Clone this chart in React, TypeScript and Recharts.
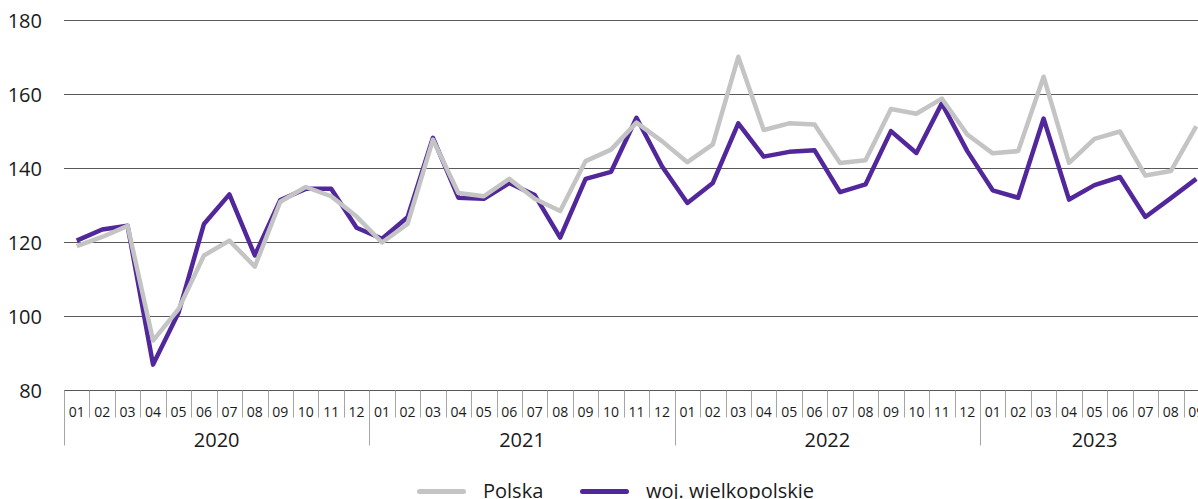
import { LineChart, Line, XAxis, YAxis, CartesianGrid } from 'recharts';

// miesiące w kolejności, 2023 kończy się na wrześniu
const yearLabels = ['2020', '2021', '2022', '2023'];
const yearLengths = [12, 12, 12, 9];
const monthLabels = [
  '01', '02', '03', '04', '05', '06', '07', '08', '09', '10', '11', '12',
  '01', '02', '03', '04', '05', '06', '07', '08', '09', '10', '11', '12',
  '01', '02', '03', '04', '05', '06', '07', '08', '09', '10', '11', '12',
  '01', '02', '03', '04', '05', '06', '07', '08', '09',
];

const polska = [
  119, 121.5, 124.5, 93.5, 102, 116.5, 120.5, 113.5, 131, 135, 132.5, 127,
  120, 125, 147.8, 133.4, 132.5, 137.2, 131.8, 128.5, 142, 145.1, 152.4, 147.4,
  141.7, 146.5, 170.2, 150.4, 152.2, 151.9, 141.5, 142.2, 156.1, 154.8, 158.9, 149.2,
  144.1, 144.7, 164.8, 141.5, 148, 150, 138.1, 139.3, 151.4,
];
const wielkopolskie = [
  120.5, 123.5, 124.5, 87, 101, 125, 133, 116.5, 131.5, 134.5, 134.5, 124,
  121, 126.8, 148.3, 132.1, 131.8, 136.1, 132.8, 121.3, 137.2, 139.1, 153.7, 140.6,
  130.7, 136.1, 152.2, 143.2, 144.5, 144.9, 133.6, 135.7, 150.1, 144.2, 157.6, 144.7,
  134.1, 132.1, 153.5, 131.6, 135.5, 137.7, 126.9, 132, 137.2,
];
const yTicks = [80, 100, 120, 140, 160, 180];

const yearOfIndex: number[] = [];
yearLengths.forEach((n, y) => {
  for (let k = 0; k < n; k++) yearOfIndex.push(y);
});

const data = monthLabels.map((m, i) => ({
  month: m,
  year: yearLabels[yearOfIndex[i]],
  polska: polska[i],
  wielkopolskie: wielkopolskie[i],
}));

const PLOT_LEFT = 64;
const PLOT_RIGHT = 1209;
const PLOT_TOP = 20.5;
const PLOT_BOTTOM = 390.5;
const CHART_W = 1220;
const CHART_H = 540;
const BAND = (PLOT_RIGHT - PLOT_LEFT) / data.length;
const FONT = '"Open Sans", sans-serif';
const PURPLE = '#51279b';
const GRAY = '#c4c4c4';

function MonthTick(props: any) {
  const { x, y, payload, index } = props;
  const i = payload?.index ?? index;
  const left = Math.round(x - BAND / 2) + 0.5;
  const yIdx = yearOfIndex[i];
  const firstOfYear = i === 0 || yearOfIndex[i - 1] !== yIdx;
  const isLast = i === data.length - 1;
  return (
    <g>
      <line x1={left} x2={left} y1={y} y2={firstOfYear ? y + 55 : y + 27} stroke="#a6a6a6" strokeWidth={1} />
      {isLast && (
        <line x1={left + BAND} x2={left + BAND} y1={y} y2={y + 55} stroke="#a6a6a6" strokeWidth={1} />
      )}
      <text x={x} y={y + 26.5} textAnchor="middle" fontSize={14} fontFamily={FONT} fill="#1a1a1a">
        {payload.value}
      </text>
      {firstOfYear && (
        <text
          x={x - BAND / 2 + (yearLengths[yIdx] * BAND) / 2}
          y={y + 56.5}
          textAnchor="middle"
          fontSize={20}
          fontFamily={FONT}
          fill="#1a1a1a"
        >
          {yearLabels[yIdx]}
        </text>
      )}
    </g>
  );
}

function LegendBox() {
  const item = (color: string, label: string, left: number) => (
    <div style={{ position: 'absolute', left, top: 0, display: 'flex', alignItems: 'center' }}>
      <div style={{ width: 49, height: 5, borderRadius: 3, background: color, marginRight: 17 }} />
      <span style={{ fontFamily: FONT, fontSize: 20, color: '#1a1a1a', lineHeight: '20px' }}>{label}</span>
    </div>
  );
  return (
    <div style={{ position: 'absolute', left: 0, top: 481, width: 1198, height: 20 }}>
      {item(GRAY, 'Polska', 417)}
      {item(PURPLE, 'woj. wielkopolskie', 580)}
    </div>
  );
}

export default function App() {
  return (
    <div style={{ position: 'fixed', left: 0, top: 0, width: 1198, height: 499, overflow: 'hidden', background: '#fff' }}>
      <div style={{ position: 'absolute', left: 0, top: 0 }}>
        <LineChart
          width={CHART_W}
          height={CHART_H}
          data={data}
          margin={{ top: PLOT_TOP, right: CHART_W - PLOT_RIGHT, bottom: CHART_H - PLOT_BOTTOM - 60, left: 0 }}
        >
          <CartesianGrid vertical={false} stroke="#595959" strokeWidth={1} />
          <XAxis
            dataKey="month"
            interval={0}
            height={60}
            tickLine={false}
            tickSize={0}
            tickMargin={0}
            axisLine={{ stroke: '#595959' }}
            padding={{ left: BAND / 2, right: BAND / 2 }}
            tick={<MonthTick />}
          />
          <YAxis
            domain={[80, 180]}
            ticks={yTicks}
            width={PLOT_LEFT}
            axisLine={false}
            tickLine={false}
            tickSize={0}
            tickMargin={22}
            tick={{ fontSize: 20, fontFamily: FONT, fill: '#1a1a1a' }}
          />
          <Line
            type="linear"
            dataKey="wielkopolskie"
            stroke={PURPLE}
            strokeWidth={4.5}
            strokeLinejoin="round"
            dot={false}
            activeDot={false}
            isAnimationActive={false}
          />
          <Line
            type="linear"
            dataKey="polska"
            stroke={GRAY}
            strokeWidth={4.5}
            strokeLinejoin="round"
            dot={false}
            activeDot={false}
            isAnimationActive={false}
          />
        </LineChart>
      </div>
      <LegendBox />
    </div>
  );
}
